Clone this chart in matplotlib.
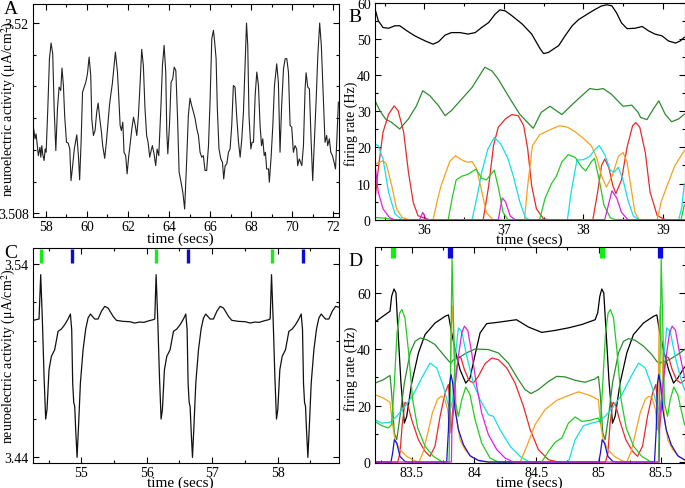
import matplotlib
matplotlib.use("Agg")
import matplotlib.pyplot as plt
from matplotlib.ticker import MultipleLocator, FixedLocator, FixedFormatter, FuncFormatter

plt.rcParams['font.family'] = ['Liberation Serif', 'DejaVu Serif']
plt.rcParams['mathtext.fontset'] = 'stix'
plt.rcParams['font.size'] = 11

# ---- panel A : neuroelectric activity (time, value) ----
a_trace = [
    (57.40, 3.51343), (57.48, 3.51270), (57.53, 3.51301), (57.59, 3.51227), (57.64, 3.51164),
    (57.72, 3.51217), (57.76, 3.51154), (57.81, 3.51227), (57.85, 3.51175), (57.92, 3.51133),
    (57.97, 3.51206), (58.02, 3.51185), (58.10, 3.51459), (58.18, 3.51775), (58.26, 3.51874),
    (58.34, 3.51806), (58.41, 3.51459), (58.49, 3.51196), (58.57, 3.51459), (58.65, 3.51596),
    (58.73, 3.51575), (58.79, 3.51716), (58.86, 3.51606), (58.92, 3.51417), (59.01, 3.51248),
    (59.09, 3.51244), (59.17, 3.51206), (59.23, 3.51006), (59.31, 3.51101), (59.39, 3.51206),
    (59.51, 3.51295), (59.59, 3.51164), (59.65, 3.51011), (59.72, 3.51248), (59.79, 3.51564),
    (59.87, 3.51596), (59.95, 3.51627), (60.03, 3.51680), (60.11, 3.51785), (60.19, 3.51670),
    (60.24, 3.51396), (60.32, 3.51291), (60.40, 3.51322), (60.48, 3.51438), (60.55, 3.51495),
    (60.63, 3.51396), (60.71, 3.51312), (60.77, 3.51227), (60.87, 3.51147), (60.95, 3.51248),
    (61.03, 3.51375), (61.10, 3.51480), (61.16, 3.51543), (61.24, 3.51617), (61.33, 3.51733),
    (61.39, 3.51817), (61.49, 3.51691), (61.55, 3.51543), (61.62, 3.51354), (61.68, 3.51322),
    (61.75, 3.51375), (61.81, 3.51185), (61.89, 3.51164), (61.96, 3.51049), (62.04, 3.51164),
    (62.10, 3.51227), (62.19, 3.51333), (62.27, 3.51406), (62.35, 3.51358), (62.43, 3.51291),
    (62.51, 3.51417), (62.59, 3.51617), (62.67, 3.51834), (62.75, 3.51733), (62.83, 3.51459),
    (62.91, 3.51291), (62.98, 3.51248), (63.06, 3.51154), (63.13, 3.51196), (63.19, 3.51227),
    (63.27, 3.51175), (63.35, 3.51101), (63.42, 3.51206), (63.50, 3.51164), (63.60, 3.51459),
    (63.68, 3.51733), (63.76, 3.51859), (63.84, 3.51691), (63.89, 3.51312), (63.94, 3.51175),
    (64.02, 3.51354), (64.10, 3.51627), (64.18, 3.51648), (64.25, 3.51722), (64.33, 3.51701),
    (64.41, 3.51417), (64.49, 3.51059), (64.57, 3.51006), (64.67, 3.50933), (64.76, 3.50827),
    (64.86, 3.51143), (64.94, 3.51417), (65.02, 3.51526), (65.10, 3.51480), (65.19, 3.51438),
    (65.27, 3.51396), (65.35, 3.51333), (65.43, 3.51291), (65.51, 3.51185), (65.59, 3.51154),
    (65.67, 3.51164), (65.75, 3.51070), (65.83, 3.51070), (65.92, 3.51227), (66.00, 3.51522),
    (66.08, 3.51901), (66.16, 3.51954), (66.22, 3.51880), (66.29, 3.51775), (66.35, 3.51459),
    (66.43, 3.51206), (66.52, 3.51143), (66.60, 3.51122), (66.66, 3.51017), (66.73, 3.51101),
    (66.81, 3.51112), (66.89, 3.51185), (66.97, 3.51206), (67.05, 3.51354), (67.13, 3.51606),
    (67.21, 3.51596), (67.29, 3.51417), (67.38, 3.51248), (67.46, 3.51154), (67.54, 3.51270),
    (67.62, 3.51438), (67.70, 3.51733), (67.77, 3.52000), (67.83, 3.51859), (67.89, 3.51417),
    (67.98, 3.51206), (68.04, 3.51248), (68.11, 3.51248), (68.19, 3.51543), (68.27, 3.51691),
    (68.35, 3.51606), (68.43, 3.51354), (68.50, 3.51227), (68.56, 3.51270), (68.63, 3.51164),
    (68.69, 3.51185), (68.75, 3.51080), (68.84, 3.51080), (68.88, 3.50996), (68.97, 3.51164),
    (69.05, 3.51354), (69.13, 3.51606), (69.24, 3.51743), (69.32, 3.51627), (69.40, 3.51185),
    (69.48, 3.51480), (69.57, 3.51712), (69.65, 3.51775), (69.73, 3.51775), (69.81, 3.51691),
    (69.89, 3.51354), (69.97, 3.51343), (70.05, 3.51185), (70.13, 3.51227), (70.21, 3.51206),
    (70.26, 3.51101), (70.34, 3.51143), (70.46, 3.51101), (70.54, 3.51227), (70.62, 3.51585),
    (70.67, 3.51686), (70.75, 3.51596), (70.83, 3.51585), (70.91, 3.51270), (70.99, 3.51006),
    (71.07, 3.51248), (71.16, 3.51522), (71.24, 3.51796), (71.33, 3.52000), (71.41, 3.51859),
    (71.51, 3.51522), (71.59, 3.51248), (71.67, 3.51291), (71.72, 3.51227), (71.80, 3.51270),
    (71.87, 3.51185), (71.95, 3.51164), (72.03, 3.51122), (72.10, 3.51080), (72.16, 3.51248),
    (72.24, 3.51501),
]

# ---- panel B : firing rates (time, Hz) ----
b_black = [
    (35.38, 58.3), (35.42, 55.1), (35.48, 53.2), (35.55, 53.0), (35.63, 53.7), (35.69, 53.7),
    (35.78, 52.3), (35.88, 50.9), (36.01, 49.5), (36.11, 48.6), (36.18, 49.3), (36.26, 51.1),
    (36.34, 51.8), (36.45, 51.8), (36.55, 51.4), (36.64, 51.8), (36.72, 53.2), (36.81, 54.6),
    (36.89, 56.9), (36.95, 58.1), (37.02, 57.8), (37.10, 56.5), (37.23, 54.2), (37.35, 51.4),
    (37.46, 47.2), (37.50, 46.0), (37.56, 46.3), (37.69, 48.2), (37.77, 50.9), (37.86, 53.7),
    (37.94, 55.4), (38.02, 56.5), (38.13, 58.0), (38.23, 59.2), (38.30, 59.5), (38.36, 59.2),
    (38.42, 57.2), (38.48, 54.5), (38.55, 52.9), (38.65, 53.0), (38.74, 53.5), (38.82, 52.3),
    (38.90, 51.4), (38.99, 50.9), (39.07, 49.5), (39.16, 48.9), (39.22, 49.5), (39.27, 50.5),
]
b_dkgreen = [
    (35.38, 32.9), (35.44, 30.2), (35.51, 27.9), (35.59, 26.9), (35.69, 25.1), (35.80, 27.9),
    (35.90, 31.5), (35.98, 35.7), (36.07, 34.3), (36.18, 31.5), (36.26, 28.8), (36.34, 30.2),
    (36.47, 33.4), (36.60, 36.6), (36.68, 39.4), (36.76, 42.2), (36.85, 41.2), (36.93, 38.9),
    (37.08, 33.4), (37.20, 29.2), (37.29, 27.1), (37.37, 25.3), (37.47, 29.7), (37.58, 31.4),
    (37.73, 29.1), (37.89, 32.5), (38.08, 36.3), (38.17, 36.0), (38.25, 36.3), (38.35, 34.8),
    (38.50, 31.4), (38.61, 31.7), (38.69, 29.7), (38.72, 28.3), (38.80, 27.7), (38.88, 30.6),
    (38.95, 32.9), (39.03, 29.2), (39.11, 27.1), (39.20, 27.9), (39.27, 29.2),
]
b_red = [
    (35.38, 5.7), (35.42, 14.0), (35.48, 24.2), (35.55, 29.2), (35.62, 31.5), (35.67, 30.2),
    (35.74, 24.2), (35.80, 13.1), (35.86, 4.8), (35.92, 1.1), (36.05, 0.0), (36.74, 0.0),
    (36.81, 9.4), (36.87, 20.5), (36.93, 25.6), (37.02, 27.9), (37.10, 29.1), (37.18, 28.8),
    (37.25, 26.0), (37.30, 19.6), (37.35, 9.4), (37.41, 3.0), (37.50, 0.2), (37.56, 0.0),
    (38.12, 0.0), (38.18, 7.6), (38.23, 15.0), (38.27, 16.8), (38.32, 14.5), (38.37, 9.5),
    (38.41, 7.2), (38.48, 11.0), (38.55, 20.0), (38.62, 26.0), (38.66, 26.9), (38.71, 25.6),
    (38.78, 18.6), (38.84, 7.6), (38.93, 1.1), (39.03, 0.0), (39.27, 0.0),
]
b_cyan = [
    (35.38, 20.9), (35.42, 20.5), (35.48, 16.8), (35.55, 7.6), (35.63, 1.6), (35.72, 0.0),
    (36.60, 0.0), (36.66, 6.0), (36.72, 13.0), (36.80, 19.6), (36.88, 22.8), (36.96, 21.0),
    (37.05, 17.0), (37.12, 12.0), (37.20, 5.0), (37.27, 0.6), (37.32, 0.0), (37.80, 0.0),
    (37.85, 8.0), (37.92, 16.5), (38.00, 16.6), (38.08, 17.5), (38.15, 19.5), (38.20, 20.5),
    (38.27, 18.0), (38.34, 13.6), (38.39, 13.2), (38.44, 14.5), (38.50, 11.0), (38.56, 5.5),
    (38.63, 1.0), (38.70, 0.0), (39.20, 0.0), (39.24, 3.5), (39.27, 9.9),
]
b_orange = [
    (35.38, 15.4), (35.44, 15.9), (35.48, 16.3), (35.52, 15.5), (35.59, 9.4), (35.65, 3.0),
    (35.72, 0.6), (35.80, 0.0), (36.11, 0.0), (36.16, 5.0), (36.21, 9.4), (36.32, 16.1),
    (36.39, 17.7), (36.49, 16.3), (36.55, 15.9), (36.60, 16.1), (36.66, 14.0), (36.72, 8.0),
    (36.78, 2.0), (36.86, 0.0), (37.26, 0.0), (37.30, 9.4), (37.36, 20.5), (37.45, 23.5),
    (37.56, 24.7), (37.70, 26.0), (37.80, 25.6), (37.90, 24.3), (38.00, 22.5), (38.10, 20.5),
    (38.17, 17.0), (38.23, 12.0), (38.29, 9.0), (38.37, 12.5), (38.44, 17.5), (38.50, 18.6),
    (38.55, 16.0), (38.60, 8.9), (38.65, 2.0), (38.70, 0.0), (38.93, 0.0), (38.98, 5.0),
    (39.07, 10.3), (39.15, 14.9), (39.27, 19.1),
]
b_green = [
    (35.38, 0.6), (35.50, 0.4), (35.60, 0.0), (36.30, 0.0), (36.35, 6.0), (36.40, 11.0),
    (36.47, 12.0), (36.55, 12.6), (36.65, 14.0), (36.72, 11.5), (36.78, 11.0), (36.88, 13.7),
    (36.94, 8.0), (36.99, 2.0), (37.05, 0.0), (37.45, 0.0), (37.52, 6.0), (37.60, 10.0),
    (37.66, 12.0), (37.73, 16.0), (37.81, 18.0), (37.90, 17.2), (37.98, 14.5), (38.03, 13.5),
    (38.10, 16.0), (38.14, 17.0), (38.20, 11.0), (38.26, 4.0), (38.34, 0.5), (38.40, 0.0),
    (39.23, 0.0), (39.27, 4.0),
]
b_magenta = [
    (35.38, 15.0), (35.42, 7.6), (35.48, 3.0), (35.56, 0.6), (35.62, 0.0), (35.94, 0.0),
    (35.98, 2.0), (36.02, 0.3), (36.06, 0.0), (36.93, 0.0), (36.98, 6.0), (37.02, 5.0),
    (37.08, 1.0), (37.14, 0.0), (38.27, 0.0), (38.36, 8.0), (38.42, 6.0), (38.48, 2.0),
    (38.56, 0.0), (39.27, 0.0),
]

# ---- panel C : neuroelectric activity with stimulus times ----
c_trace = [
    (54.260, 3.51074), (54.352, 3.51143), (54.378, 3.53432), (54.403, 3.51108), (54.429, 3.48182),
    (54.454, 3.45979), (54.474, 3.46461), (54.505, 3.48527), (54.541, 3.49215), (54.592, 3.49559),
    (54.643, 3.50506), (54.694, 3.50627), (54.745, 3.50850), (54.796, 3.51143), (54.832, 3.51401),
    (54.852, 3.50592), (54.867, 3.47838), (54.883, 3.46840), (54.898, 3.46633), (54.913, 3.45429),
    (54.934, 3.44000), (54.954, 3.45429), (54.985, 3.47838), (55.026, 3.49559), (55.066, 3.50627),
    (55.102, 3.51194), (55.138, 3.51401), (55.168, 3.51281), (55.204, 3.51143), (55.255, 3.51143),
    (55.306, 3.51539), (55.357, 3.51797), (55.408, 3.51710), (55.485, 3.51281), (55.536, 3.51074),
    (55.638, 3.51022), (55.740, 3.51005), (55.816, 3.50936), (55.893, 3.50988), (55.954, 3.50971),
    (56.020, 3.51040), (56.097, 3.51108), (56.122, 3.51143), (56.143, 3.53432),
    (56.168, 3.51108), (56.194, 3.48182), (56.219, 3.45979), (56.239, 3.46461), (56.270, 3.48527),
    (56.306, 3.49215), (56.357, 3.49559), (56.408, 3.50506), (56.459, 3.50627), (56.510, 3.50850),
    (56.561, 3.51143), (56.597, 3.51401), (56.617, 3.50592), (56.632, 3.47838), (56.648, 3.46840),
    (56.663, 3.46633), (56.678, 3.45429), (56.699, 3.44000), (56.719, 3.45429), (56.750, 3.47838),
    (56.791, 3.49559), (56.831, 3.50627), (56.867, 3.51194), (56.903, 3.51401), (56.933, 3.51281),
    (56.969, 3.51143), (57.020, 3.51143), (57.071, 3.51539), (57.122, 3.51797), (57.173, 3.51710),
    (57.250, 3.51281), (57.301, 3.51074), (57.403, 3.51022), (57.505, 3.51005), (57.581, 3.50936),
    (57.658, 3.50988), (57.719, 3.50971), (57.785, 3.51040), (57.862, 3.51108), (57.887, 3.51143),
    (57.908, 3.53432),
    (57.933, 3.51108), (57.959, 3.48182), (57.984, 3.45979), (58.004, 3.46461), (58.035, 3.48527),
    (58.071, 3.49215), (58.122, 3.49559), (58.173, 3.50506), (58.224, 3.50627), (58.275, 3.50850),
    (58.326, 3.51143), (58.362, 3.51401), (58.382, 3.50592), (58.397, 3.47838), (58.413, 3.46840),
    (58.428, 3.46633), (58.443, 3.45429), (58.464, 3.44000), (58.484, 3.45429), (58.515, 3.47838),
    (58.556, 3.49559), (58.596, 3.50627), (58.632, 3.51194), (58.668, 3.51401), (58.698, 3.51281),
    (58.734, 3.51143), (58.785, 3.51143), (58.836, 3.51539), (58.887, 3.51797), (58.940, 3.51750),
]
c_green_marks = [54.388, 56.148, 57.908]
c_blue_marks = [54.862, 56.633, 58.393]

# ---- panel D : firing rates with stimulus times ----
d_black = [
    (83.206, 49.7), (83.326, 53.5), (83.339, 58.8), (83.358, 61.4), (83.374, 60.0), (83.388, 48.2),
    (83.414, 28.0), (83.441, 13.8), (83.460, 16.2), (83.500, 28.0), (83.554, 38.7), (83.607, 45.2),
    (83.687, 49.3), (83.768, 51.7), (83.795, 52.2), (83.816, 47.0), (83.848, 39.9), (83.888, 32.8),
    (83.934, 28.0), (83.968, 29.8), (84.009, 38.1), (84.049, 45.8), (84.102, 49.1), (84.196, 49.6),
    (84.276, 50.1), (84.341, 50.5), (84.437, 47.9), (84.544, 46.0), (84.651, 46.7), (84.758, 47.6),
    (84.866, 48.8), (84.973, 50.5), (84.994, 53.1), (85.010, 58.8), (85.026, 61.4), (85.042, 60.0),
    (85.058, 48.2), (85.085, 28.0), (85.112, 13.8), (85.133, 16.2), (85.173, 28.0), (85.227, 38.7),
    (85.280, 45.2), (85.360, 49.3), (85.441, 51.7), (85.468, 52.2), (85.487, 47.0), (85.521, 39.9),
    (85.562, 32.8), (85.602, 28.0), (85.636, 29.8), (85.690, 33.7),
]
d_dkgreen = [
    (83.206, 28.0), (83.272, 29.2), (83.326, 30.7), (83.339, 24.5), (83.361, 10.3), (83.380, 7.9),
    (83.406, 16.2), (83.441, 28.0), (83.487, 38.7), (83.527, 42.8), (83.567, 44.0), (83.621, 43.4),
    (83.687, 41.7), (83.754, 38.1), (83.800, 35.7), (83.816, 35.1), (83.835, 36.3), (83.875, 36.9),
    (83.939, 38.7), (84.009, 40.1), (84.116, 39.9), (84.196, 38.7), (84.276, 35.1), (84.357, 29.2),
    (84.410, 25.7), (84.458, 24.3), (84.517, 25.7), (84.598, 28.6), (84.665, 30.4), (84.732, 30.2),
    (84.812, 29.0), (84.892, 28.3), (84.973, 29.5), (84.999, 30.4), (85.013, 24.5), (85.034, 10.3),
    (85.053, 7.9), (85.080, 16.2), (85.112, 28.0), (85.160, 38.7), (85.200, 42.8), (85.240, 43.8),
    (85.294, 43.2), (85.361, 41.1), (85.428, 38.1), (85.468, 35.7), (85.487, 35.1), (85.521, 35.5),
    (85.575, 36.5), (85.630, 38.0), (85.690, 39.9),
]
d_green = [
    (83.206, 14.4), (83.259, 12.9), (83.313, 12.1), (83.339, 13.3), (83.361, 28.0), (83.382, 45.8),
    (83.404, 52.9), (83.422, 54.1), (83.446, 51.1), (83.473, 39.9), (83.508, 22.1), (83.548, 12.1),
    (83.607, 5.6), (83.674, 2.0), (83.741, 0.2), (83.800, 0.0), (83.811, 30.4), (83.824, 72.1),
    (83.837, 48.2), (83.851, 21.0), (83.875, 16.2), (83.902, 22.1), (83.934, 26.6), (83.968, 23.9),
    (84.009, 15.0), (84.062, 6.7), (84.129, 1.4), (84.196, 0.0), (84.544, 0.0), (84.598, 3.8),
    (84.651, 7.0), (84.705, 8.5), (84.758, 13.8), (84.812, 16.0), (84.866, 14.4), (84.932, 14.8),
    (84.999, 15.6), (85.015, 13.8), (85.034, 28.0), (85.056, 45.8), (85.077, 52.9), (85.096, 54.1),
    (85.120, 51.1), (85.147, 39.9), (85.181, 22.1), (85.222, 12.1), (85.281, 5.6), (85.347, 2.0),
    (85.414, 0.2), (85.481, 0.0), (85.492, 30.4), (85.503, 72.1), (85.516, 48.2), (85.529, 21.0),
    (85.554, 16.2), (85.575, 22.1), (85.604, 26.6), (85.636, 23.9), (85.669, 17.4), (85.690, 13.3),
]
d_cyan = [
    (83.206, 15.0), (83.259, 13.8), (83.326, 14.1), (83.380, 16.2), (83.446, 19.8), (83.513, 23.9),
    (83.580, 29.8), (83.647, 35.1), (83.701, 33.4), (83.754, 26.9), (83.789, 21.0), (83.811, 18.6),
    (83.829, 22.1), (83.853, 38.7), (83.875, 47.6), (83.902, 46.4), (83.942, 37.5), (83.995, 28.0),
    (84.049, 22.1), (84.116, 16.8), (84.156, 16.2), (84.209, 11.5), (84.290, 5.6), (84.370, 2.0),
    (84.437, 0.2), (84.491, 0.0), (84.758, 0.0), (84.812, 7.9), (84.879, 12.9), (84.946, 13.8),
    (84.999, 14.4), (85.053, 16.2), (85.120, 19.8), (85.187, 23.9), (85.254, 29.8), (85.321, 35.1),
    (85.374, 33.4), (85.428, 26.9), (85.463, 21.0), (85.484, 18.6), (85.503, 22.1), (85.527, 38.7),
    (85.548, 47.6), (85.575, 46.4), (85.615, 37.5), (85.655, 30.4), (85.690, 25.7),
]
d_red = [
    (83.206, 0.0), (83.388, 0.0), (83.406, 3.2), (83.425, 13.8), (83.446, 21.2), (83.468, 20.4),
    (83.500, 15.0), (83.554, 7.9), (83.607, 3.8), (83.647, 2.0), (83.687, 5.6), (83.728, 16.2),
    (83.768, 24.5), (83.795, 27.5), (83.805, 22.1), (83.816, 10.3), (83.832, 16.2), (83.853, 30.4),
    (83.875, 37.5), (83.896, 36.9), (83.923, 32.8), (83.960, 29.0), (83.995, 28.0), (84.035, 30.4),
    (84.089, 34.9), (84.143, 36.9), (84.196, 36.3), (84.263, 33.4), (84.330, 28.0), (84.397, 19.8),
    (84.451, 11.5), (84.517, 4.4), (84.598, 0.8), (84.678, 0.0), (85.056, 0.0), (85.075, 3.2),
    (85.093, 13.8), (85.115, 21.2), (85.136, 20.4), (85.168, 15.0), (85.219, 7.9), (85.273, 3.8),
    (85.313, 2.0), (85.353, 5.6), (85.393, 16.2), (85.434, 24.5), (85.460, 27.5), (85.471, 22.1),
    (85.484, 10.3), (85.500, 16.2), (85.519, 30.4), (85.543, 37.5), (85.564, 36.9), (85.591, 32.8),
    (85.628, 29.0), (85.661, 28.0), (85.690, 29.0),
]
d_orange = [
    (83.206, 23.9), (83.272, 22.7), (83.326, 21.2), (83.345, 13.8), (83.366, 7.9), (83.406, 4.4),
    (83.460, 2.0), (83.513, 0.6), (83.559, 0.0), (83.594, 3.8), (83.629, 10.3), (83.666, 17.4),
    (83.709, 22.4), (83.736, 23.3), (83.762, 22.7), (83.789, 18.6), (83.805, 11.5), (83.819, 49.3),
    (83.827, 55.3), (83.840, 39.9), (83.859, 16.2), (83.888, 7.9), (83.928, 4.4), (83.982, 1.8),
    (84.049, 0.2), (84.116, 0.0), (84.370, 0.0), (84.424, 5.6), (84.491, 13.3), (84.571, 18.6),
    (84.665, 21.9), (84.758, 23.6), (84.839, 24.9), (84.932, 23.6), (84.999, 22.1), (85.015, 13.8),
    (85.037, 7.9), (85.075, 4.4), (85.128, 2.0), (85.181, 0.6), (85.227, 0.0), (85.262, 3.8),
    (85.297, 10.3), (85.334, 17.4), (85.377, 22.4), (85.404, 23.3), (85.431, 22.7), (85.457, 18.6),
    (85.473, 11.5), (85.487, 49.3), (85.495, 55.3), (85.508, 39.9), (85.527, 16.2), (85.556, 7.9),
    (85.596, 4.4), (85.650, 1.8), (85.690, 0.8),
]
d_blue = [
    (83.206, 0.0), (83.334, 0.0), (83.347, 3.2), (83.361, 7.9), (83.380, 6.7), (83.406, 2.0),
    (83.446, 0.2), (83.473, 0.0), (83.781, 0.0), (83.795, 11.5), (83.805, 28.0), (83.816, 31.0),
    (83.829, 28.0), (83.848, 18.6), (83.875, 11.5), (83.915, 6.2), (83.968, 2.2), (84.035, 0.6),
    (84.116, 0.0), (85.002, 0.0), (85.015, 3.2), (85.029, 7.9), (85.048, 6.7), (85.075, 2.0),
    (85.115, 0.2), (85.142, 0.0), (85.449, 0.0), (85.463, 11.5), (85.473, 28.0), (85.484, 31.0),
    (85.497, 28.0), (85.516, 18.6), (85.543, 11.5), (85.583, 6.2), (85.636, 2.2), (85.690, 0.8),
]
d_magenta = [
    (83.206, 0.0), (83.819, 0.0), (83.824, 16.2), (83.848, 26.9), (83.875, 37.5), (83.902, 45.8),
    (83.923, 48.2), (83.950, 46.7), (83.982, 38.7), (84.022, 26.9), (84.062, 17.4), (84.116, 9.7),
    (84.183, 4.4), (84.250, 1.4), (84.317, 0.0), (85.487, 0.0), (85.492, 16.2), (85.516, 26.9),
    (85.543, 37.5), (85.570, 45.8), (85.591, 48.2), (85.618, 46.7), (85.650, 38.7), (85.690, 30.0),
]
d_green_marks = [83.347, 85.026]
d_blue_marks = [83.808, 85.495]

BLACK = '#000000'
DKGREEN = '#2e8b2e'
GREEN = '#22cc22'
RED = '#e82a2a'
ORANGE = '#f7a21b'
CYAN = '#10e0e8'
MAGENTA = '#e020e0'
BLUE = '#1515d0'
MARK_GREEN = '#11ee11'
MARK_BLUE = '#0a0ae0'

W, H = 685.0, 489.0
fig = plt.figure(figsize=(W / 100, H / 100), dpi=100)


def px_axes(left, top, right, bottom):
    return fig.add_axes([left / W, 1 - bottom / H, (right - left) / W, (bottom - top) / H])


def draw(ax, pairs, color, lw=0.9):
    ax.plot([p[0] for p in pairs], [p[1] for p in pairs], color=color, lw=lw,
            solid_joinstyle='round')


def style(ax):
    ax.tick_params(which='both', direction='in', top=True, right=True, labelsize=10)
    ax.tick_params(axis='x', pad=2.5)
    ax.tick_params(axis='y', pad=3)
    ax.tick_params(which='major', length=4.5, width=0.8)
    ax.tick_params(which='minor', length=2.5, width=0.8)
    for s in ax.spines.values():
        s.set_linewidth(0.8)


volt_label = 'neuroelectric activity (μA/cm$^2$)'
gfmt = FuncFormatter(lambda v, p: '%g' % v)
YLAB = 10

# A
ax = px_axes(33, 5, 339, 218)
draw(ax, a_trace, '#222222', lw=0.8)
ax.set_xlim(57.38, 72.27)
ax.set_ylim(3.50777, 3.5212)
ax.xaxis.set_major_locator(MultipleLocator(2))
ax.xaxis.set_minor_locator(MultipleLocator(1))
ax.yaxis.set_major_locator(FixedLocator([3.508, 3.52]))
ax.yaxis.set_major_formatter(FixedFormatter(['3.508', '3.52']))
ax.yaxis.set_minor_locator(MultipleLocator(0.002))
style(ax)
ax.set_xlabel('time (secs)', fontsize=11)
ax.set_ylabel(volt_label, fontsize=YLAB)
ax.xaxis.set_label_coords(0.48, -0.07)
ax.yaxis.set_label_coords(-0.05, 0.51)

# B
ax = px_axes(375, 4, 684.5, 221)
for pairs, col in [(b_black, BLACK), (b_dkgreen, DKGREEN), (b_red, RED), (b_orange, ORANGE),
                   (b_cyan, CYAN), (b_green, GREEN), (b_magenta, MAGENTA)]:
    draw(ax, pairs, col)
ax.set_xlim(35.379, 39.273)
ax.set_ylim(-0.1, 60)
ax.xaxis.set_major_locator(MultipleLocator(1))
ax.xaxis.set_minor_locator(MultipleLocator(0.5))
ax.yaxis.set_major_locator(MultipleLocator(10))
ax.yaxis.set_minor_locator(MultipleLocator(5))
ax.yaxis.set_major_formatter(gfmt)
style(ax)
ax.set_xlabel('time (secs)', fontsize=11)
ax.set_ylabel('firing rate (Hz)', fontsize=YLAB)
ax.xaxis.set_label_coords(0.5, -0.056)
ax.yaxis.set_label_coords(-0.055, 0.45)

# C
ax = px_axes(33, 249, 339, 464)
draw(ax, c_trace, '#111111', lw=0.9)
ax.vlines(c_green_marks, 3.5403, 3.5475, color=MARK_GREEN, lw=2.4)
ax.vlines(c_blue_marks, 3.5403, 3.5475, color=MARK_BLUE, lw=2.4)
ax.set_xlim(54.26, 58.94)
ax.set_ylim(3.4371, 3.5481)
ax.xaxis.set_major_locator(MultipleLocator(1))
ax.xaxis.set_minor_locator(MultipleLocator(0.5))
ax.yaxis.set_major_locator(FixedLocator([3.44, 3.54]))
ax.yaxis.set_major_formatter(FixedFormatter(['3.44', '3.54']))
ax.yaxis.set_minor_locator(MultipleLocator(0.02))
style(ax)
ax.set_xlabel('time (secs)', fontsize=11)
ax.set_ylabel(volt_label, fontsize=YLAB)
ax.xaxis.set_label_coords(0.48, -0.056)
ax.yaxis.set_label_coords(-0.05, 0.50)

# D
ax = px_axes(375, 248, 684.5, 464)
for pairs, col in [(d_black, BLACK), (d_dkgreen, DKGREEN), (d_red, RED), (d_cyan, CYAN),
                   (d_orange, ORANGE), (d_green, GREEN), (d_blue, BLUE), (d_magenta, MAGENTA)]:
    draw(ax, pairs, col)
ax.vlines(d_green_marks, 72.3, 76.3, color=MARK_GREEN, lw=3.8)
ax.vlines(d_blue_marks, 72.3, 76.3, color=MARK_BLUE, lw=3.8)
ax.set_xlim(83.2055, 85.69)
ax.set_ylim(-0.35, 76.3)
ax.xaxis.set_major_locator(MultipleLocator(0.5))
ax.xaxis.set_minor_locator(MultipleLocator(0.25))
ax.xaxis.set_major_formatter(gfmt)
ax.yaxis.set_major_locator(MultipleLocator(20))
ax.yaxis.set_minor_locator(MultipleLocator(10))
ax.yaxis.set_major_formatter(gfmt)
style(ax)
ax.set_xlabel('time (secs)', fontsize=11)
ax.set_ylabel('firing rate (Hz)', fontsize=YLAB)
ax.xaxis.set_label_coords(0.5, -0.056)
ax.yaxis.set_label_coords(-0.055, 0.44)

# panel letters
for letter, x, y in [('A', 11, 10), ('B', 355, 17), ('C', 11, 254), ('D', 355, 261)]:
    fig.text(x / W, 1 - y / H, letter, fontsize=14, ha='center', va='center')

fig.savefig('out.png', dpi=100)
